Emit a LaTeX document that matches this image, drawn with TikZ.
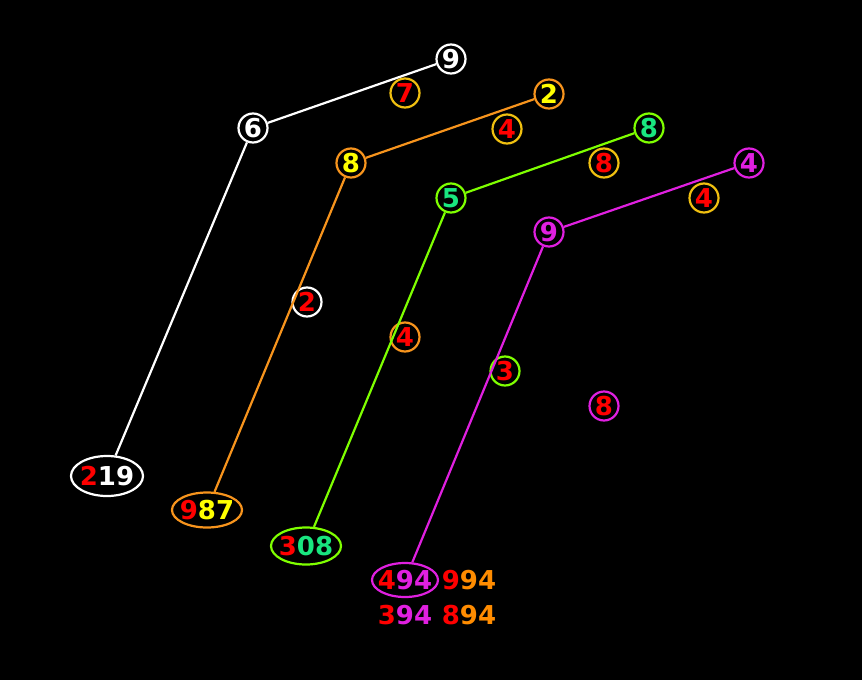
\documentclass[tikz,border=0pt]{standalone}
\usepackage{fontspec}
\setmainfont{DejaVu Sans}
\usetikzlibrary{shapes.geometric}
\definecolor{cOr}{HTML}{F7941D}
\definecolor{cGold}{HTML}{F0C010}
\definecolor{cYel}{HTML}{FFFF00}
\definecolor{cLime}{HTML}{7FFF00}
\definecolor{cSpr}{HTML}{19E67F}
\definecolor{cMag}{HTML}{E020E0}
\definecolor{cRed}{HTML}{FF0000}
\definecolor{cOrT}{HTML}{FF8C00}
\tikzset{
  dig/.style={circle,draw=#1,line width=2.2pt,minimum size=29pt,inner sep=0pt,font=\fontsize{26}{26}\selectfont\bfseries},
  ell/.style={ellipse,draw=#1,line width=2.2pt,inner xsep=-12pt,inner ysep=-8pt,font=\fontsize{26}{26}\selectfont\bfseries},
  txt/.style={font=\fontsize{26}{26}\selectfont\bfseries,inner sep=0pt},
  lnk/.style={draw=#1,line width=2.2pt}
}
\begin{document}
\begin{tikzpicture}[x=1pt,y=-1pt]
\fill[black] (0,0) rectangle (862,680);
\useasboundingbox (0,0) rectangle (862,680);
% white chain
\node[dig=white,text=white] (w9) at (451,59) {9};
\node[dig=white,text=white] (w6) at (253,128) {6};
\node[dig=cGold,text=cRed] (r7) at (405,93) {7};
\node[ell=white,minimum width=72pt,minimum height=40pt] (e219) at (107,476) {\textcolor{cRed}{2}\textcolor{white}{19}};
% orange chain
\node[dig=cOr,text=cYel] (o2) at (549,94) {2};
\node[dig=cOr,text=cYel] (o8) at (351,163) {8};
\node[dig=cGold,text=cRed] (r4a) at (507,129) {4};
\node[ell=cOr,minimum width=70pt,minimum height=35pt] (e987) at (207,510) {\textcolor{cRed}{9}\textcolor{cYel}{87}};
% green chain
\node[dig=cLime,text=cSpr] (g8) at (649,128) {8};
\node[dig=cLime,text=cSpr] (g5) at (451,198) {5};
\node[dig=cGold,text=cRed] (r8a) at (604,163) {8};
\node[ell=cLime,minimum width=70pt,minimum height=37pt] (e308) at (306,546) {\textcolor{cRed}{3}\textcolor{cSpr}{08}};
% magenta chain
\node[dig=cMag,text=cMag] (m4) at (749,163) {4};
\node[dig=cMag,text=cMag] (m9) at (549,232) {9};
\node[dig=cGold,text=cRed] (r4b) at (704,198) {4};
\node[ell=cMag,minimum width=66pt,minimum height=34pt] (e494) at (405,580) {\textcolor{cRed}{4}\textcolor{cMag}{94}};
% middle singles
\node[dig=white,text=cRed] (r2) at (307,302) {2};
\node[dig=cOr,text=cRed] (r4c) at (405,337) {4};
\node[dig=cLime,text=cRed] (r3) at (505,371) {3};
\node[dig=cMag,text=cRed] (r8b) at (604,406) {8};
% loose numbers
\node[txt] (t994) at (469,580) {\textcolor{cRed}{9}\textcolor{cOrT}{94}};
\node[txt] (t394) at (405,615) {\textcolor{cRed}{3}\textcolor{cMag}{94}};
\node[txt] (t894) at (469,615) {\textcolor{cRed}{8}\textcolor{cOrT}{94}};
% links
\draw[lnk=white] (w9) -- (w6);
\draw[lnk=white] (w6) -- (e219);
\draw[lnk=cOr] (o2) -- (o8);
\draw[lnk=cOr] (o8) -- (e987);
\draw[lnk=cLime] (g8) -- (g5);
\draw[lnk=cLime] (g5) -- (e308);
\draw[lnk=cMag] (m4) -- (m9);
\draw[lnk=cMag] (m9) -- (e494);
\end{tikzpicture}
\end{document}
